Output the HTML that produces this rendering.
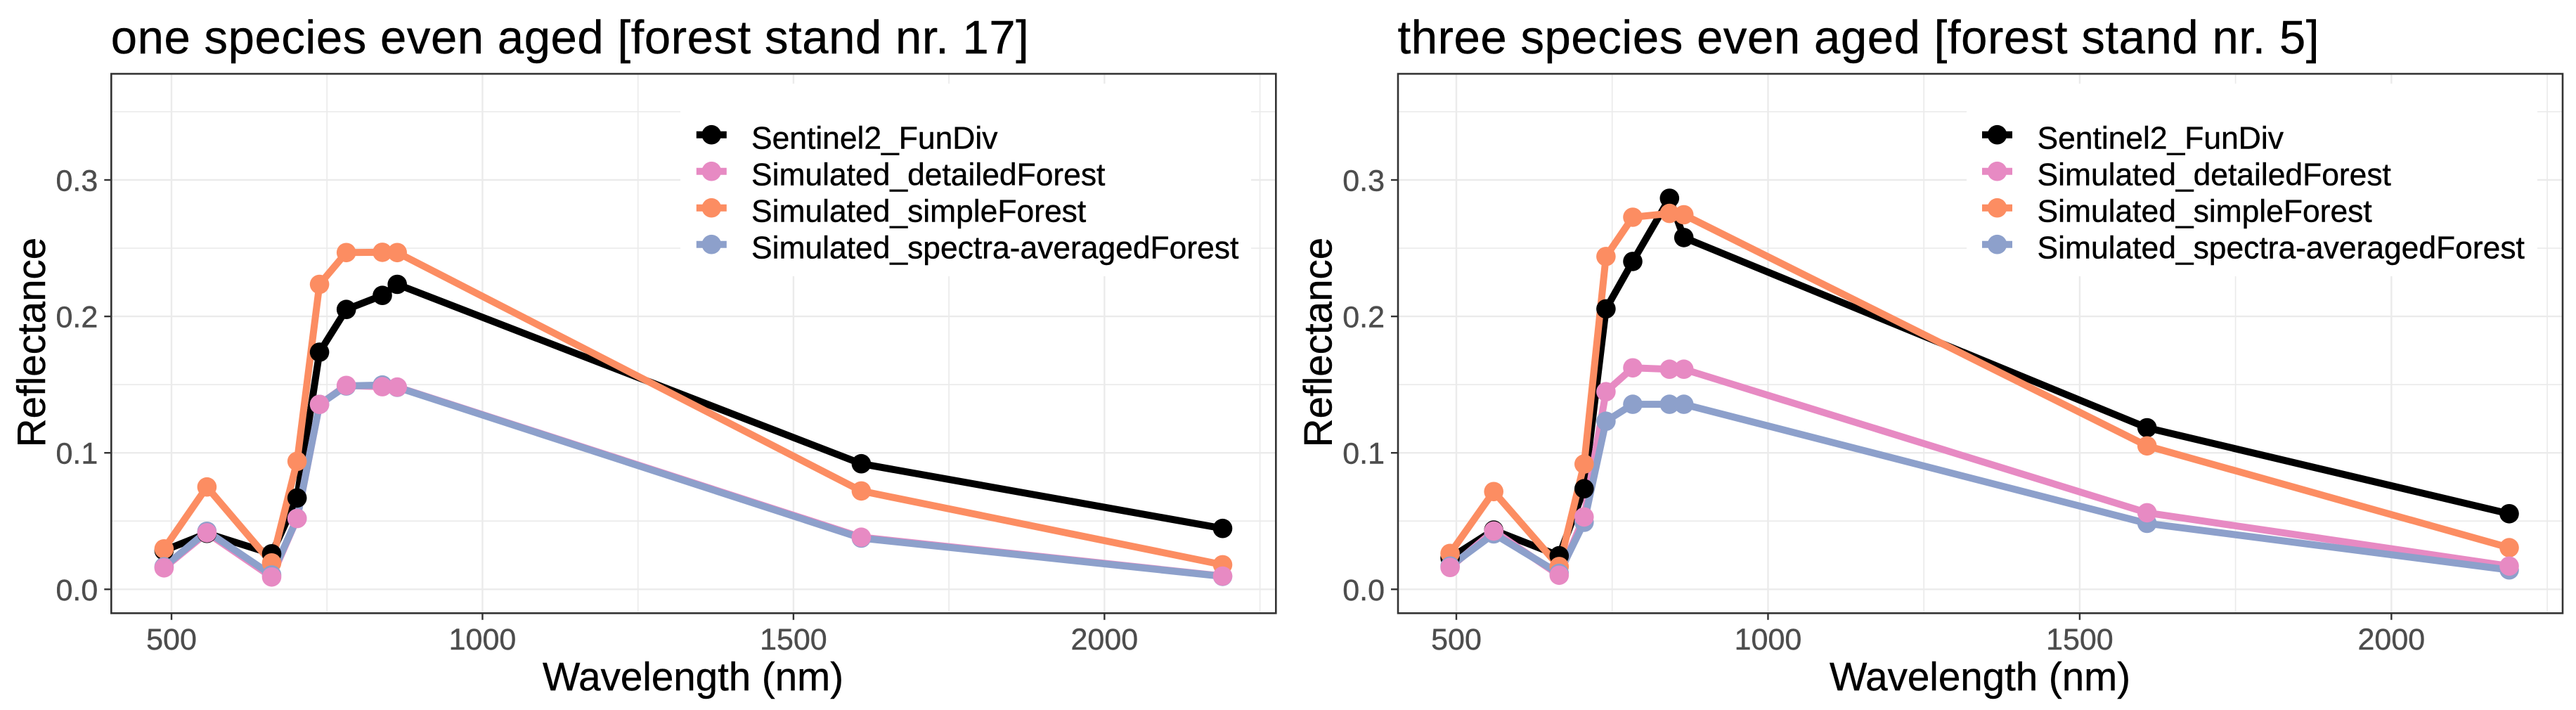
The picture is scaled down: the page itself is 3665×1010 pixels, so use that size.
<!DOCTYPE html>
<html lang="en">
<head>
<meta charset="utf-8">
<title>Reflectance by wavelength</title>
<style>
html,body{margin:0;padding:0;background:#fff}
svg{display:block}
text{font-family:"Liberation Sans",Arial,sans-serif;stroke:currentColor;stroke-width:0.45px}
</style>
</head>
<body>
<svg id="chart" xmlns="http://www.w3.org/2000/svg" width="3665" height="1010" viewBox="0 0 3665 1010"></svg>
<script>
// ---------- data ----------
const seriesNames = ['Sentinel2_FunDiv', 'Simulated_detailedForest', 'Simulated_simpleForest', 'Simulated_spectra-averagedForest'];
const xTickValues = [500, 1000, 1500, 2000];
const xTickLabels = ['500', '1000', '1500', '2000'];
const xMinorValues = [750, 1250, 1750, 2250];
const yTickValues = [0, 0.1, 0.2, 0.3];
const yTickLabels = ['0.0', '0.1', '0.2', '0.3'];
const yMinorValues = [0.05, 0.15, 0.25, 0.35];

const leftTitle = 'one species even aged [forest stand nr. 17]';
const leftWavelengths = [488, 557, 661, 702, 738, 781, 839, 863, 1609, 2190];
const leftSentinel = [0.0284, 0.0410, 0.0260, 0.0669, 0.1738, 0.2051, 0.2154, 0.2235, 0.0920, 0.0446];
const leftDetailed = [0.0157, 0.0414, 0.0090, 0.0519, 0.1355, 0.1494, 0.1485, 0.1482, 0.0382, 0.0097];
const leftSimple = [0.0296, 0.0750, 0.0193, 0.0938, 0.2235, 0.2468, 0.2470, 0.2468, 0.0721, 0.0180];
const leftAveraged = [0.0165, 0.0425, 0.0105, 0.0520, 0.1355, 0.1490, 0.1497, 0.1480, 0.0375, 0.0095];

const rightTitle = 'three species even aged [forest stand nr. 5]';
const rightWavelengths = [490, 560, 665, 705, 740, 783, 842, 865, 1608, 2189];
const rightSentinel = [0.0230, 0.0434, 0.0246, 0.0737, 0.2055, 0.2403, 0.2866, 0.2578, 0.1184, 0.0554];
const rightDetailed = [0.0160, 0.0427, 0.0103, 0.0530, 0.1448, 0.1623, 0.1613, 0.1613, 0.0561, 0.0170];
const rightSimple = [0.0263, 0.0716, 0.0167, 0.0918, 0.2439, 0.2727, 0.2755, 0.2745, 0.1051, 0.0305];
const rightAveraged = [0.0170, 0.0406, 0.0117, 0.0491, 0.1232, 0.1356, 0.1356, 0.1356, 0.0483, 0.0142];

// ---------- styling and layout ----------
const seriesColors = ['#000000', '#E78AC3', '#FC8D62', '#8DA0CB'];
const lineOrder = [0, 1, 2, 3];
const pointOrder = [0, 2, 3, 1];
const SVGNS = 'http://www.w3.org/2000/svg';
const root = document.getElementById('chart');

function make(parent, tag, attrs, content) {
  const el = document.createElementNS(SVGNS, tag);
  for (const k in attrs) el.setAttribute(k, attrs[k]);
  if (content !== undefined) el.textContent = content;
  parent.appendChild(el);
  return el;
}

function drawPanel(cfg) {
  const x = w => cfg.x500 + (w - 500) * cfg.xPerNm;
  const y = v => 838.3 - v * 1941;
  const top = 105, bottom = 872.3;

  const panel = make(root, 'g', {});
  
  

  const title = make(panel, 'text', {x: cfg.left - 0.5, y: 76, 'font-size': 67, fill: '#000', color: '#000', textLength: cfg.titleWidth, lengthAdjust: 'spacing'}, cfg.title);
  
  

  const bg = make(panel, 'rect', {x: cfg.left, y: top, width: cfg.right - cfg.left, height: bottom - top, fill: '#fff'});
  
  

  const grid = make(panel, 'g', {stroke: '#EBEBEB', fill: 'none'});
  
  
  xMinorValues.forEach(v => make(grid, 'line', {x1: x(v), x2: x(v), y1: top, y2: bottom, 'stroke-width': 1.7}));
  yMinorValues.forEach(v => make(grid, 'line', {x1: cfg.left, x2: cfg.right, y1: y(v), y2: y(v), 'stroke-width': 1.7}));
  xTickValues.forEach(v => make(grid, 'line', {x1: x(v), x2: x(v), y1: top, y2: bottom, 'stroke-width': 2.4}));
  yTickValues.forEach(v => make(grid, 'line', {x1: cfg.left, x2: cfg.right, y1: y(v), y2: y(v), 'stroke-width': 2.4}));

  // legend background masks the gridlines
  const legendBg = make(panel, 'rect', {x: cfg.legendBox[0], y: 119, width: cfg.legendBox[1] - cfg.legendBox[0], height: 274, fill: '#fff'});
  
  

  // lines underneath, points on top
  lineOrder.forEach(s => {
    const pts = cfg.wavelengths.map((w, i) => x(w).toFixed(1) + ',' + y(cfg.series[s][i]).toFixed(1)).join(' ');
    const line = make(panel, 'polyline', {points: pts, fill: 'none', stroke: seriesColors[s], 'stroke-width': 10, 'stroke-linejoin': 'round', 'stroke-linecap': 'butt'});
    
    
  });
  pointOrder.forEach(s => {
    const group = make(panel, 'g', {fill: seriesColors[s]});
    
    
    cfg.wavelengths.forEach((w, i) => {
      const pt = make(group, 'circle', {cx: x(w).toFixed(1), cy: y(cfg.series[s][i]).toFixed(1), r: 13.8});
      
      
    });
  });

  const frame = make(panel, 'rect', {x: cfg.left, y: top, width: cfg.right - cfg.left, height: bottom - top, fill: 'none', stroke: '#333333', 'stroke-width': 2.6});
  
  

  // x axis
  const xAxis = make(panel, 'g', {});
  
  
  xTickValues.forEach((v, i) => {
    const tick = make(xAxis, 'line', {x1: x(v), x2: x(v), y1: bottom, y2: bottom + 9.5, stroke: '#333333', 'stroke-width': 2.4});
    
    
    const label = make(xAxis, 'text', {x: x(v), y: 924, 'font-size': 43, fill: '#4D4D4D', color: '#4D4D4D', 'text-anchor': 'middle'}, xTickLabels[i]);
    
    
  });
  const xTitle = make(xAxis, 'text', {x: cfg.xTitleX, y: 982, 'font-size': 56.5, fill: '#000', color: '#000', 'text-anchor': 'middle'}, 'Wavelength (nm)');
  
  

  // y axis
  const yAxis = make(panel, 'g', {});
  
  
  yTickValues.forEach((v, i) => {
    const tick = make(yAxis, 'line', {x1: cfg.left - 10, x2: cfg.left, y1: y(v), y2: y(v), stroke: '#333333', 'stroke-width': 2.4});
    
    
    const label = make(yAxis, 'text', {x: cfg.left - 19, y: y(v) + 15.5, 'font-size': 43, fill: '#4D4D4D', color: '#4D4D4D', 'text-anchor': 'end'}, yTickLabels[i]);
    
    
  });
  const yTitle = make(yAxis, 'text', {x: 0, y: 0, 'font-size': 56.5, fill: '#000', color: '#000', 'text-anchor': 'middle', transform: 'translate(' + cfg.yTitleX + ' 487) rotate(-90)'}, 'Reflectance');
  
  

  // legend
  const legend = make(panel, 'g', {});
  
  
  seriesNames.forEach((n, i) => {
    const entry = make(legend, 'g', {});
    
    
    const ky = 191.7 + i * 52;
    make(entry, 'line', {x1: cfg.legendKey - 21.5, x2: cfg.legendKey + 21.5, y1: ky, y2: ky, stroke: seriesColors[i], 'stroke-width': 10});
    make(entry, 'circle', {cx: cfg.legendKey, cy: ky, r: 13.8, fill: seriesColors[i]});
    make(entry, 'text', {x: cfg.legendText, y: ky + 20, 'font-size': 44.4, fill: '#000', color: '#000'}, n);
  });
}

drawPanel({
  name: 'left', title: leftTitle, titleWidth: 1306,
  left: 158.3, right: 1815.3, x500: 244, xPerNm: 0.8849,
  wavelengths: leftWavelengths,
  series: [leftSentinel, leftDetailed, leftSimple, leftAveraged],
  legendBox: [968, 1780], legendKey: 1012.3, legendText: 1069,
  xTitleX: 986, yTitleX: 63.8
});
drawPanel({
  name: 'right', title: rightTitle, titleWidth: 1311,
  left: 1989, right: 3646, x500: 2072, xPerNm: 0.8869,
  wavelengths: rightWavelengths,
  series: [rightSentinel, rightDetailed, rightSimple, rightAveraged],
  legendBox: [2798, 3610], legendKey: 2841.5, legendText: 2898.5,
  xTitleX: 2817, yTitleX: 1894.4
});
</script>
</body>
</html>
